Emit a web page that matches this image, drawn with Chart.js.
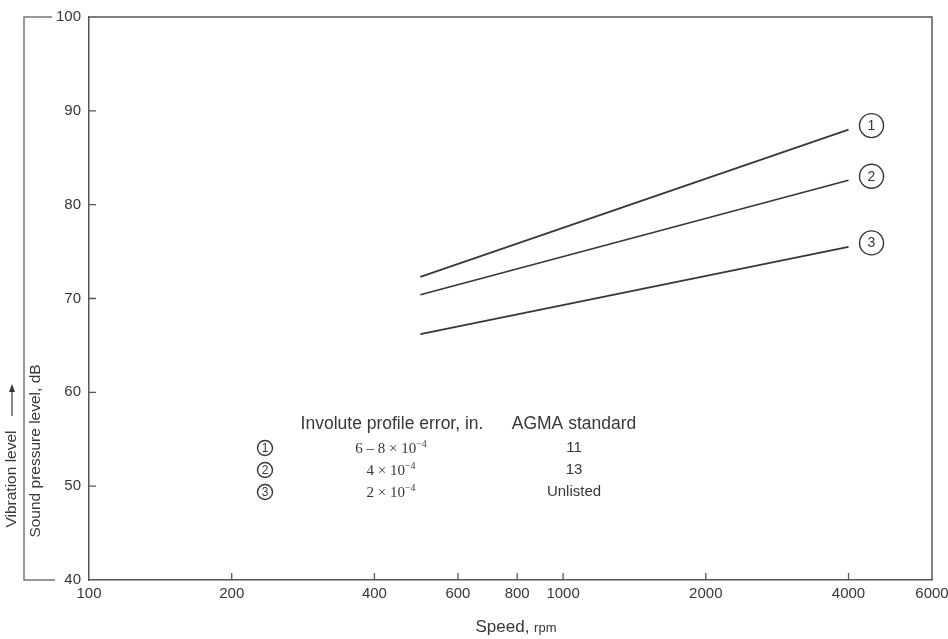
<!DOCTYPE html>
<html>
<head>
<meta charset="utf-8">
<script src="https://cdn.jsdelivr.net/npm/chart.js@4.4.0/dist/chart.umd.min.js"></script>
<style>
  html, body { margin: 0; padding: 0; background: #fff; }
  #wrap { width: 948px; height: 639px; }
</style>
</head>
<body>
<div id="wrap"><canvas id="c"></canvas></div>
<script>
// data
const speeds = [500, 4000];
const level1 = [72.3, 88.0];
const level2 = [70.4, 82.6];
const level3 = [66.2, 75.5];
const curveTags = ['1', '2', '3'];
const speedTicks = [100, 200, 400, 600, 800, 1000, 2000, 4000, 6000];
const levelTicks = [40, 50, 60, 70, 80, 90, 100];
const tableHead = ['Involute profile error, in.', 'AGMA standard'];
const tableErr = ['6 \u2013 8 \u00d7 10', '4 \u00d7 10', '2 \u00d7 10'];
const tableAgma = ['11', '13', 'Unlisted'];

const INK = '#3a3636';
const AXIS = '#5a5555';
const SANS = '"Liberation Sans", Arial, sans-serif';
const SERIF = '"Liberation Serif", "Times New Roman", serif';

function series(vals) {
    return speeds.map((s, i) => ({ x: s, y: vals[i] }));
}

function circled(ctx, x, y, r, txt, size) {
    ctx.beginPath();
    ctx.arc(x, y, r, 0, Math.PI * 2);
    ctx.lineWidth = 1.4;
    ctx.strokeStyle = INK;
    ctx.stroke();
    ctx.fillStyle = INK;
    ctx.font = size + 'px ' + SANS;
    ctx.textAlign = 'center';
    ctx.textBaseline = 'middle';
    ctx.fillText(txt, x, y + 0.5);
}

const decor = {
    id: 'decor',
    afterDraw(chart) {
        const ctx = chart.ctx;
        const a = chart.chartArea;
        const xs = chart.scales.x, ys = chart.scales.y;
        ctx.save();

        // top and right frame
        ctx.strokeStyle = AXIS;
        ctx.lineWidth = 1.5;
        ctx.beginPath();
        ctx.moveTo(a.left, a.top);
        ctx.lineTo(a.right, a.top);
        ctx.lineTo(a.right, a.bottom);
        ctx.stroke();

        // inside ticks
        ctx.lineWidth = 1.3;
        ctx.beginPath();
        speedTicks.slice(1, -1).forEach(v => {
            const px = xs.getPixelForValue(v);
            ctx.moveTo(px, a.bottom);
            ctx.lineTo(px, a.bottom - 7);
        });
        levelTicks.slice(1, -1).forEach(v => {
            const py = ys.getPixelForValue(v);
            ctx.moveTo(a.left, py);
            ctx.lineTo(a.left + 7, py);
        });
        ctx.stroke();

        // outer bracket on the left
        ctx.strokeStyle = '#777';
        ctx.lineWidth = 1.5;
        ctx.beginPath();
        ctx.moveTo(52, a.top);
        ctx.lineTo(24, a.top);
        ctx.lineTo(24, a.bottom);
        ctx.lineTo(55, a.bottom);
        ctx.stroke();

        // rotated axis labels
        ctx.fillStyle = INK;
        ctx.font = '15.5px ' + SANS;
        ctx.textAlign = 'center';
        ctx.textBaseline = 'middle';
        ctx.save();
        ctx.translate(36, 451);
        ctx.rotate(-Math.PI / 2);
        ctx.fillText('Sound pressure level, dB', 0, 0);
        ctx.restore();
        ctx.save();
        ctx.translate(12, 479);
        ctx.rotate(-Math.PI / 2);
        ctx.fillText('Vibration level', 0, 0);
        ctx.restore();
        // arrow
        ctx.strokeStyle = INK;
        ctx.lineWidth = 1.2;
        ctx.beginPath();
        ctx.moveTo(12, 416);
        ctx.lineTo(12, 389);
        ctx.stroke();
        ctx.beginPath();
        ctx.moveTo(12, 384);
        ctx.lineTo(9, 392);
        ctx.lineTo(15, 392);
        ctx.closePath();
        ctx.fill();

        // x title with small "rpm"
        ctx.textBaseline = 'alphabetic';
        ctx.textAlign = 'left';
        ctx.font = '17px ' + SANS;
        const t1 = 'Speed, ';
        const w1 = ctx.measureText(t1).width;
        ctx.font = '13px ' + SANS;
        const w2 = ctx.measureText('rpm').width;
        const x0 = 516 - (w1 + w2) / 2;
        ctx.font = '17px ' + SANS;
        ctx.fillText(t1, x0, 632);
        ctx.font = '13px ' + SANS;
        ctx.fillText('rpm', x0 + w1, 632);

        // curve tags at the line ends
        [level1, level2, level3].forEach((vals, i) => {
            const px = xs.getPixelForValue(speeds[speeds.length - 1]);
            const py = ys.getPixelForValue(vals[vals.length - 1]);
            circled(ctx, px + 23, py - 4, 12, curveTags[i], 14);
        });

        // table
        ctx.fillStyle = INK;
        ctx.textAlign = 'center';
        ctx.textBaseline = 'middle';
        ctx.font = '17.5px ' + SANS;
        ctx.fillText(tableHead[0], 392, 424);
        ctx.fillText(tableHead[1], 574, 424);
        const rowY = [448, 470, 492];
        rowY.forEach((y, i) => {
            circled(ctx, 265, y, 7.5, curveTags[i], 12);
            ctx.fillStyle = INK;
            ctx.font = '15px ' + SERIF;
            const main = tableErr[i];
            const wm = ctx.measureText(main).width;
            ctx.font = '10px ' + SERIF;
            const ws = ctx.measureText('\u22124').width;
            const sx = 391 - (wm + ws) / 2;
            ctx.textAlign = 'left';
            ctx.font = '15px ' + SERIF;
            ctx.fillText(main, sx, y + 1);
            ctx.font = '10px ' + SERIF;
            ctx.fillText('\u22124', sx + wm, y - 4);
            ctx.textAlign = 'center';
            ctx.font = '15px ' + SANS;
            ctx.fillText(tableAgma[i], 574, y);
        });

        ctx.restore();
    }
};

const lineStyle = { borderColor: INK, borderWidth: 1.7, pointRadius: 0, fill: false, tension: 0 };

new Chart(document.getElementById('c'), {
    type: 'line',
    data: {
        datasets: [
            Object.assign({ label: curveTags[0], data: series(level1) }, lineStyle),
            Object.assign({ label: curveTags[1], data: series(level2) }, lineStyle),
            Object.assign({ label: curveTags[2], data: series(level3) }, lineStyle)
        ]
    },
    options: {
        responsive: true,
        maintainAspectRatio: false,
        animation: false,
        layout: { padding: { top: 15, right: 16, left: 0, bottom: 0 } },
        plugins: { legend: { display: false }, tooltip: { enabled: false } },
        scales: {
            x: {
                type: 'logarithmic',
                min: 100,
                max: 6000,
                afterBuildTicks: s => { s.ticks = speedTicks.map(v => ({ value: v })); },
                afterFit: s => { s.height = 59; s.paddingRight = 16; s.paddingLeft = 0; },
                grid: { display: false, drawTicks: false },
                border: { color: AXIS, width: 1.5 },
                ticks: {
                    autoSkip: false, maxRotation: 0, padding: 5,
                    color: INK, font: { family: SANS, size: 15 },
                    callback: v => String(v)
                }
            },
            y: {
                type: 'linear',
                min: 40,
                max: 100,
                afterBuildTicks: s => { s.ticks = levelTicks.map(v => ({ value: v })); },
                afterFit: s => { s.width = 89; },
                grid: { display: false, drawTicks: false },
                border: { color: AXIS, width: 1.5 },
                ticks: {
                    padding: 8, color: INK, font: { family: SANS, size: 15 },
                    callback: v => String(v)
                }
            }
        }
    },
    plugins: [decor]
});
</script>
</body>
</html>
